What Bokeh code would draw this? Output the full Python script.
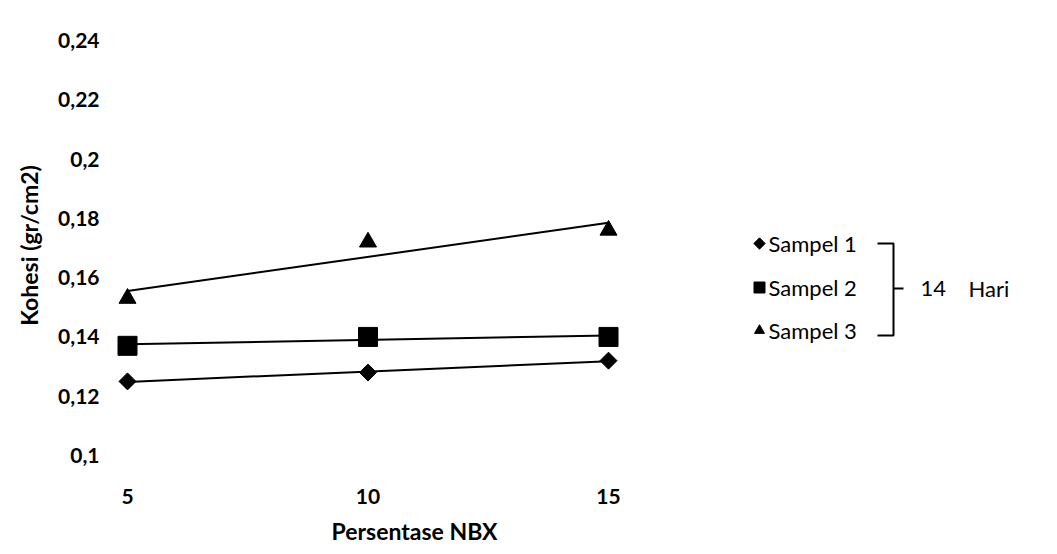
import numpy as np
from bokeh.plotting import figure
from bokeh.layouts import row
from bokeh.models import Range1d, FixedTicker
from bokeh.core.properties import value
from bokeh.embed import file_html
from bokeh.resources import INLINE

# ---- data ----
x_values = [5, 10, 15]
x_tick_labels = ["5", "10", "15"]
series_names = ["Sampel 1", "Sampel 2", "Sampel 3"]
sampel_1 = [0.125, 0.128, 0.132]
sampel_2 = [0.137, 0.140, 0.140]
sampel_3 = [0.153, 0.172, 0.176]
y_ticks = [0.10, 0.12, 0.14, 0.16, 0.18, 0.20, 0.22, 0.24]
y_tick_labels = ["0,1", "0,12", "0,14", "0,16", "0,18", "0,2", "0,22", "0,24"]
group_label = ["14", "Hari"]

FONT = "Lato"
W, H = 1057, 554
MAIN_W = 716
TOP, BOTTOM = 20, 470

p = figure(width=MAIN_W, height=H, output_backend="svg", toolbar_location=None,
           x_range=Range1d(4.688, 17.245), y_range=Range1d(0.09494, 0.24675),
           min_border_left=112, min_border_right=0, min_border_top=TOP,
           min_border_bottom=H - BOTTOM)
p.background_fill_color = "white"
p.border_fill_color = "white"
p.outline_line_color = None
p.grid.visible = False

markers = ["diamond", "square", "triangle"]
sizes = [17, 19, 17]
data = [sampel_1, sampel_2, sampel_3]
xs = np.array(x_values, dtype=float)
for vals, mk, sz in zip(data, markers, sizes):
    m, b = np.polyfit(xs, np.array(vals), 1)
    xl = np.array([xs.min(), xs.max()])
    p.line(xl, m * xl + b, line_color="black", line_width=2)
    if mk == "diamond":
        p.scatter(x_values, vals, marker="square", angle=np.pi / 4, size=12,
                  fill_color="black", line_color="black")
    else:
        p.scatter(x_values, vals, marker=mk, size=sz, fill_color="black", line_color="black")

p.xaxis.ticker = FixedTicker(ticks=x_values)
p.xaxis.major_label_overrides = {x: l for x, l in zip(x_values, x_tick_labels)}
p.yaxis.ticker = FixedTicker(ticks=y_ticks)
p.yaxis.major_label_overrides = {t: l for t, l in zip(y_ticks, y_tick_labels)}
p.xaxis.axis_label = "Persentase NBX"
p.yaxis.axis_label = "Kohesi (gr/cm2)"
for ax in p.axis:
    ax.axis_line_color = None
    ax.major_tick_line_color = None
    ax.minor_tick_line_color = None
    ax.major_label_text_font = FONT
    ax.major_label_text_font_style = "bold"
    ax.major_label_text_font_size = "21px"
    ax.major_label_text_color = "black"
    ax.axis_label_text_font = FONT
    ax.axis_label_text_font_style = "bold"
    ax.axis_label_text_font_size = "23px"
    ax.axis_label_text_color = "black"
p.yaxis.major_label_standoff = 7
p.yaxis.axis_label_standoff = 12
p.xaxis.major_label_standoff = 12
p.xaxis.axis_label_standoff = 10

# ---- legend panel (frame aligned with main plot frame; y in screen px) ----
q = figure(width=W - MAIN_W, height=H, output_backend="svg", toolbar_location=None,
           x_range=Range1d(0, W - MAIN_W), y_range=Range1d(BOTTOM, TOP),
           min_border=0, min_border_top=TOP, min_border_bottom=H - BOTTOM)
q.axis.visible = False
q.grid.visible = False
q.outline_line_color = None
q.background_fill_color = "white"
q.border_fill_color = "white"

row_y = [243, 287, 330]
mk_x = 43
q.scatter([mk_x], [row_y[0]], marker="square", angle=np.pi / 4, size=8,
          fill_color="black", line_color="black")
q.scatter([mk_x], [row_y[1]], marker="square", size=11, fill_color="black", line_color="black")
q.scatter([mk_x], [row_y[2]], marker="triangle", size=10, fill_color="black", line_color="black")
q.text([52] * 3, row_y, text=series_names, text_font=value(FONT), text_font_size="22px",
       text_baseline="middle", text_align="left", text_color="black")

q.multi_line([[161, 177, 177, 161], [177, 187]], [[243, 243, 335, 335], [288, 288]],
             line_color="black", line_width=2)
q.text([204, 252], [288, 288], text=group_label, text_font=value(FONT), text_font_size="22px",
       text_baseline="middle", text_align="left", text_color="black")

layout = row(p, q, spacing=0)
open("out.html", "w").write(file_html(layout, INLINE))
